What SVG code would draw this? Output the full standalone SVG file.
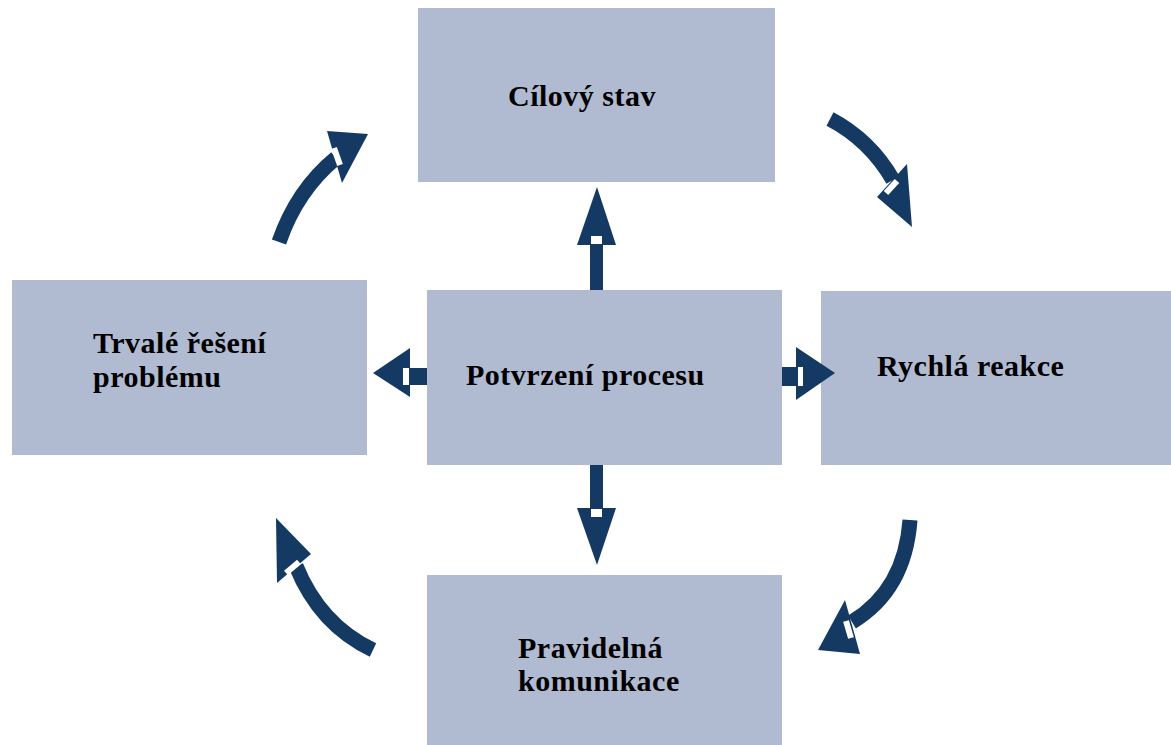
<svg xmlns="http://www.w3.org/2000/svg" width="1171" height="745" viewBox="0 0 1171 745">
<style>
.box{fill:#b0bad0}
.t{font-family:"Liberation Serif","Times New Roman",serif;font-weight:bold;font-size:30px;letter-spacing:0.5px;fill:#000}
.ar{fill:#143a64}
.sh{fill:none;stroke:#143a64;stroke-width:15}
.nt{stroke:#fff;stroke-width:6;fill:none}
</style>
<rect width="1171" height="745" fill="#fff"/>
<g id="n-top"><rect class="box" x="418" y="8" width="357" height="174"/><text class="t" x="508" y="106">Cílový stav</text></g>
<g id="n-left"><rect class="box" x="12" y="280" width="355" height="175"/><text class="t" x="93" y="353">Trvalé řešení</text><text class="t" x="93" y="387">problému</text></g>
<g id="n-center"><rect class="box" x="427" y="290" width="355" height="175"/><text class="t" x="466" y="385">Potvrzení procesu</text></g>
<g id="n-right"><rect class="box" x="821" y="291" width="350" height="174"/><text class="t" x="877" y="376">Rychlá reakce</text></g>
<g id="n-bottom"><rect class="box" x="427" y="575" width="355" height="170"/><text class="t" x="518" y="658">Pravidelná</text><text class="t" x="518" y="691">komunikace</text></g>
<g id="connectors">
<rect class="ar" x="590" y="240" width="13" height="50"/>
<polygon class="ar" points="597,187 577,245 616,245"/>
<rect x="591" y="236" width="11" height="8" fill="#fff"/>
<rect class="ar" x="590" y="465" width="13" height="48"/>
<polygon class="ar" points="577,508 616,508 597,565"/>
<rect x="591" y="509" width="11" height="8" fill="#fff"/>
<rect class="ar" x="405" y="368" width="22" height="17"/>
<polygon class="ar" points="373,373 410,348 410,397"/>
<rect x="403" y="368" width="6" height="17" fill="#fff"/>
<rect class="ar" x="782" y="367" width="20" height="19"/>
<polygon class="ar" points="796,347 796,400 835,373"/>
<rect x="798" y="367" width="5" height="19" fill="#fff"/>
<path class="sh" d="M279,242 Q297,190 336,158"/>
<polygon class="ar" points="327,131 368,134 342,183"/>
<line class="nt" x1="334" y1="148" x2="340" y2="165"/>
<path class="sh" d="M830,119 Q870,140 893,180"/>
<polygon class="ar" points="877,197 907,164 912,227"/>
<line class="nt" x1="886" y1="193" x2="897" y2="181"/>
<path class="sh" d="M910,520 Q905,590 852,622"/>
<polygon class="ar" points="845,600 818,650 860,654"/>
<line class="nt" x1="846" y1="621" x2="851" y2="638"/>
<path class="sh" d="M373,650 Q320,625 296,566"/>
<polygon class="ar" points="276,518 311,554 277,583"/>
<line class="nt" x1="286" y1="573" x2="299" y2="562"/>
</g>
</svg>
